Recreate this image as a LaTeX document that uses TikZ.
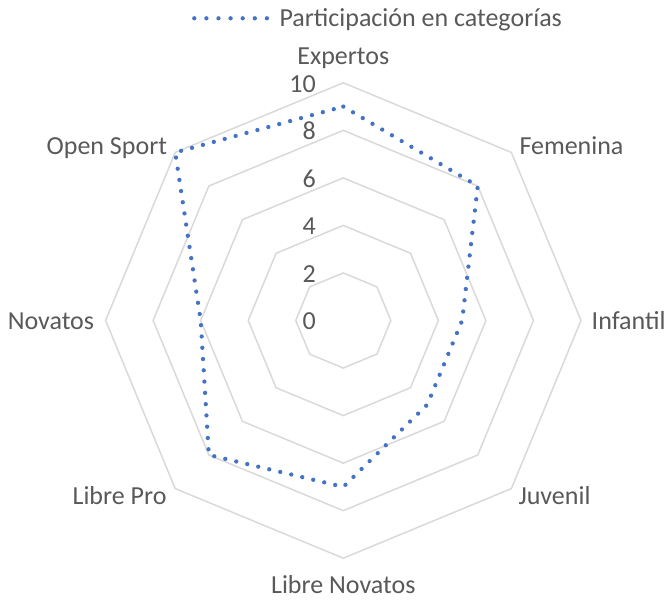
\documentclass[tikz,border=0pt]{standalone}
\usepackage{fontspec}
\setmainfont{Carlito}
\definecolor{gridgray}{HTML}{D9D9D9}
\definecolor{serblue}{HTML}{4472C4}
\definecolor{labgray}{HTML}{595959}
\begin{document}
\begin{tikzpicture}[x=1pt,y=-1pt,
  grid/.style={draw=gridgray, line width=1.5pt, line join=miter},
  series/.style={draw=serblue, line width=4.3pt, line cap=round, line join=round, dash pattern=on 0pt off 11.3pt},
  lbl/.style={text=labgray, font=\fontsize{26}{30}\selectfont, inner sep=0pt}]
\useasboundingbox (0,0) rectangle (665,600);
\def\u{23.77}
\coordinate (c) at (343.3,320.5);
% grid polygons
\foreach \v in {2,4,6,8,10}{
  \draw[grid] ([shift={(-90:\v*\u)}]c) \foreach \a in {-45,0,45,90,135,180,225}{ -- ([shift={(\a:\v*\u)}]c)} -- cycle;
}
% axis value labels
\foreach \v in {0,2,4,6,8,10}{
  \node[lbl, anchor=base east] (v\v) at ([shift={(0,-\v*\u+9.3)}]c -| 316,0) {\v};
}
% data points
\coordinate (p1) at ([shift={(-90:9*\u)}]c);
\coordinate (p2) at ([shift={(-45:8*\u)}]c);
\coordinate (p3) at ([shift={(0:5*\u)}]c);
\coordinate (p4) at ([shift={(45:5*\u)}]c);
\coordinate (p5) at ([shift={(90:7*\u)}]c);
\coordinate (p6) at ([shift={(135:8*\u)}]c);
\coordinate (p7) at ([shift={(180:6*\u)}]c);
\coordinate (p8) at ([shift={(225:10*\u)}]c);
\draw[series] (p1) -- (p2) -- (p3) -- (p4) -- (p5) -- (p6) -- (p7) -- (p8) -- cycle;
% category labels
\node[lbl, anchor=base] (expertos) at (343.3,64) {Expertos};
\node[lbl, anchor=base west] (femenina) at (519.3,154) {Femenina};
\node[lbl, anchor=base west] (infantil) at (591.5,329) {Infantil};
\node[lbl, anchor=base west] (juvenil) at (518.3,504) {Juvenil};
\node[lbl, anchor=base] (librenov) at (343.3,593.3) {Libre Novatos};
\node[lbl, anchor=base east] (librepro) at (166.7,504) {Libre Pro};
\node[lbl, anchor=base east] (novatos) at (94.3,329) {Novatos};
\node[lbl, anchor=base east] (opensport) at (167.3,154.3) {Open Sport};
% legend
\coordinate (lg1) at (194.3,18.3);
\coordinate (lg2) at (267.3,18.3);
\draw[series, dash pattern=on 0pt off 12.1pt] (lg1) -- (lg2);
\node[lbl, anchor=base west] (legend) at (279.3,26) {Participación en categorías};
\end{tikzpicture}
\end{document}
